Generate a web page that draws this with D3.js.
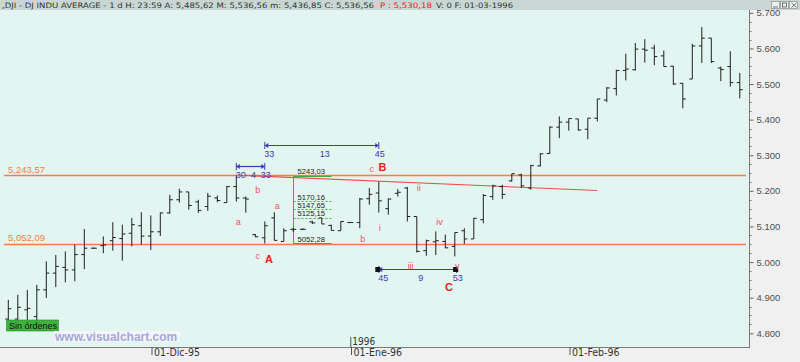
<!DOCTYPE html>
<html><head><meta charset="utf-8">
<script src="https://cdn.jsdelivr.net/npm/d3@7"></script>
<style>html,body{margin:0;padding:0;background:#f0f0f0;}svg{display:block;}</style>
</head><body>
<svg id="chart" width="800" height="362"></svg>
<script>
// ---- DATA (DJ Indu Average, daily bars) ----
const opens  = [4840,4840,4866,4847,4922,4969,4985,4978,5021,5039,5046,5060,5066,5081,5102,5073,5085,5138,5175,5197,
                5169,5156,5180,5167,5212,5180,5077,5068,5124,5058,5092,5092,5113,5124,5103,5088,5111,5111,5178,5194,
                5150,5193,5208,5128,5032,5057,5058,5044,5088,5065,5119,5184,5212,5228,5245,5208,5270,5305,5379,5393,
                5402,5373,5404,5455,5487,5538,5540,5598,5601,5579,5550,5502,5514,5607,5629,5545,5549,5504];
const highs  = [4894,4908,4922,4936,5002,5020,5030,5049,5093,5041,5072,5112,5105,5124,5140,5131,5139,5189,5206,5197,
                5175,5194,5187,5214,5243.57,5184,5079,5114,5140,5095,5096,5095,5116,5124,5105,5114,5113,5180,5208,5226,
                5179,5205,5211,5128,5063,5086,5077,5083,5095,5124,5191,5217,5217,5248,5248,5273,5306,5381,5409,5403,
                5402,5404,5458,5491,5540,5585,5615,5626,5610,5594,5551,5503,5613,5660,5629,5549,5592,5531];
const lows   = [4830,4832,4834,4836,4899,4930,4943,4946,4980,5037,5025,5032,5004,5044,5049,5034,5073,5136,5167,5147,
                5138,5144,5168,5167,5170,5139,5070,5052,5061,5058,5084,5090,5107,5107,5089,5088,5110,5095,5161,5139,
                5133,5184,5114,5027,5018,5020,5039,5016,5051,5065,5109,5175,5177,5226,5208,5203,5269,5304,5348,5369,
                5369,5345,5395,5449,5468,5510,5538,5560,5553,5549,5498,5432,5514,5559,5559,5508,5493,5460];
const closes = [4869,4873,4870,4922,4969,4988,4978,5021,5039,5039,5048,5069,5079,5105,5073,5085,5138,5175,5197,5159,
                5145,5185,5173,5212,5180,5177,5071,5102,5061,5088,5092,5092,5110,5107,5089,5114,5111,5177,5190,5172,
                5177,5196,5128,5030,5060,5060,5040,5083,5065,5123,5187,5214,5190,5248,5214,5271,5304,5379,5393,5403,
                5371,5404,5458,5489,5538,5542,5598,5595,5577,5549,5500,5458,5607,5629,5563,5541,5504,5484];

const dateTickBars   = [15, 36, 59];
const dateTickLabels = ["01-Dic-95", "01-Ene-96", "01-Feb-96"];
const yearTickBar = 36, yearLabel = "1996";
const yMajorTicks = [4800,4900,5000,5100,5200,5300,5400,5500,5600,5700];
const yMinorTicks = d3.range(4800, 5701, 25).filter(v => v % 100 !== 0);

const supportLevels = [5243.57, 5052.09];
const supportLabels = ["5,243,57", "5,052,09"];

const fibHigh = 5243.03, fibLow = 5052.28;
const fibLevels = [5170.16, 5147.65, 5125.15];
const fibLabels = ["5243,03", "5052,28", "5170,16", "5147,65", "5125,15"];
const fibBars = [30, 34];

const trendStart = {i: 25, v: 5243};
const trendEnd   = {i: 62, v: 5201};

const waveSmall = [
  {i:24.2, v:5112, t:"a"}, {i:26.25, v:5201, t:"b"}, {i:28.3, v:5158, t:"a"},
  {i:26.25, v:5018, t:"c"}, {i:37.3, v:5066, t:"b"}, {i:38.25, v:5261, t:"c"},
  {i:39.1, v:5095, t:"i"}, {i:43.2, v:5207, t:"ii"}, {i:45.4, v:5112, t:"iv"},
  {i:42.35, v:4990, t:"iii"}, {i:47.25, v:4990, t:"v"}
];
const waveBig = [{i:27.45, v:5008, t:"A"}, {i:39.4, v:5266, t:"B"}, {i:46.4, v:4930, t:"C"}];

const brackets = [
  {i1:27, i2:39, v:5328, labels:["33","13","45"], squares:false},
  {i1:24, i2:27, v:5270, labels:["30","4","33"], squares:false},
  {i1:39, i2:47.2, v:4980, labels:["45","9","53"], squares:true}
];

const headerA = ",DJI - DJ INDU AVERAGE -  1 d H: 23:59 A: 5,485,62 M: 5,536,56 m: 5,436,85 C: 5,536,56";
const headerP = "P : 5,530,18";
const headerB = "V: 0 F: 01-03-1996";

// ---- DRAWING ----
const W = 800, H = 362;
const plotRight = 749, plotBottom = 347, plotTop = 10;
const svg = d3.select("#chart");
const x = d3.scaleLinear().domain([0, 77]).range([8.3, 739.8]);
const y = d3.scaleLinear().domain([4800, 5700]).range([333.3, 12.8]);
const crisp = v => Math.round(v) + 0.5;
const FONT = "'Liberation Sans', Arial, sans-serif";

svg.append("rect").attr("width", W).attr("height", H).attr("fill", "#f0f0f0");
svg.append("rect").attr("x", 0).attr("y", plotTop).attr("width", plotRight).attr("height", plotBottom - plotTop).attr("fill", "#e3f5f0");

svg.append("defs").append("clipPath").attr("id", "plotclip")
  .append("rect").attr("x", 0).attr("y", plotTop).attr("width", plotRight).attr("height", plotBottom - plotTop);
const g = svg.append("g").attr("clip-path", "url(#plotclip)");

// support/resistance lines
supportLevels.forEach((lv, k) => {
  g.append("line").attr("x1", 4).attr("x2", 746).attr("y1", crisp(y(lv))).attr("y2", crisp(y(lv)))
    .attr("stroke", "#ff7a48").attr("stroke-width", 1.4);
  g.append("text").attr("x", 8).attr("y", y(lv) - 2.5).text(supportLabels[k])
    .attr("font-family", FONT).attr("font-size", 9.5).attr("fill", "#f87a48");
});

// trend line
g.append("line").attr("x1", x(trendStart.i)).attr("y1", y(trendStart.v))
  .attr("x2", x(trendEnd.i)).attr("y2", y(trendEnd.v))
  .attr("stroke", "#ec4f4f").attr("stroke-width", 1.1);

// fibonacci box
const fx1 = crisp(x(fibBars[0])), fx2 = crisp(x(fibBars[1]));
const green = "#3fae3f";
g.append("line").attr("x1", fx1).attr("x2", fx1).attr("y1", crisp(y(fibHigh))).attr("y2", crisp(y(fibLow))).attr("stroke", green);
[fibHigh, fibLow].forEach(v => g.append("line").attr("x1", fx1).attr("x2", fx2).attr("y1", crisp(y(v))).attr("y2", crisp(y(v))).attr("stroke", green));
fibLevels.forEach(v => g.append("line").attr("x1", fx1).attr("x2", fx2).attr("y1", crisp(y(v))).attr("y2", crisp(y(v)))
  .attr("stroke", green).attr("stroke-dasharray", "2,2"));
[fibHigh, fibLow, ...fibLevels].forEach((v, k) => {
  g.append("text").attr("x", fx1 + 4).attr("y", y(v) - 1.5).text(fibLabels[k])
    .attr("font-family", FONT).attr("font-size", 7.6).attr("fill", "#222");
});

// OHLC bars
const idx = d3.range(opens.length);
const bars = g.append("g").attr("stroke", "#1e1e1e").attr("stroke-width", 1);
bars.selectAll(".hl").data(idx).join("line")
  .attr("x1", i => x(i)).attr("x2", i => x(i)).attr("y1", i => y(highs[i])).attr("y2", i => y(lows[i]));
bars.selectAll(".o").data(idx).join("line").attr("class", "o")
  .attr("x1", i => x(i) - 3).attr("x2", i => x(i)).attr("y1", i => y(opens[i])).attr("y2", i => y(opens[i]));
bars.selectAll(".c").data(idx).join("line").attr("class", "c")
  .attr("x1", i => x(i)).attr("x2", i => x(i) + 3).attr("y1", i => y(closes[i])).attr("y2", i => y(closes[i]));

// brackets
const blue = "#3b3bb3";
brackets.forEach(b => {
  const x1 = x(b.i1), x2 = x(b.i2), yy = crisp(y(b.v));
  const bg = g.append("g");
  bg.append("line").attr("x1", x1).attr("x2", x2).attr("y1", yy).attr("y2", yy).attr("stroke", blue).attr("stroke-width", 1.2);
  [x1, x2].forEach(xx => bg.append("line").attr("x1", xx).attr("x2", xx).attr("y1", yy - 3.5).attr("y2", yy + 3.5).attr("stroke", blue));
  bg.append("path").attr("d", `M${x1},${yy}l3.5,-2.5v5z M${x2},${yy}l-3.5,-2.5v5z`).attr("fill", blue);
  if (b.squares) {
    [x1, x2].forEach(xx => bg.append("rect").attr("x", xx - 3.5).attr("y", yy - 2.5).attr("width", 5).attr("height", 5).attr("fill", "#111"));
  }
  const lx = [x1 + 4.5, (x1 + x2) / 2 + 3, x2 + 1];
  b.labels.forEach((t, k) => bg.append("text").attr("x", lx[k]).attr("y", yy + 11).attr("text-anchor", "middle")
    .text(t).attr("font-family", FONT).attr("font-size", 9).attr("fill", blue));
});

// wave labels
waveSmall.forEach(d => g.append("text").attr("x", x(d.i)).attr("y", y(d.v) + 3).attr("text-anchor", "middle")
  .text(d.t).attr("font-family", FONT).attr("font-size", 9).attr("fill", "#f0506a"));
waveBig.forEach(d => g.append("text").attr("x", x(d.i)).attr("y", y(d.v) + 4).attr("text-anchor", "middle")
  .text(d.t).attr("font-family", FONT).attr("font-size", 11).attr("font-weight", "bold").attr("fill", "#e82020"));

// Sin órdenes box
g.append("rect").attr("x", 6.5).attr("y", 320).attr("width", 52).attr("height", 11)
  .attr("fill", "#3db33d").attr("stroke", "#2a8a2a").attr("stroke-width", 0.6);
g.append("text").attr("x", 9).attr("y", 329).text("Sin órdenes").attr("font-family", FONT).attr("font-size", 9).attr("fill", "#111");

// watermark
g.append("rect").attr("x", 54).attr("y", 331).attr("width", 126).attr("height", 11).attr("fill", "#f3f7fb");
g.append("text").attr("x", 55).attr("y", 341).text("www.visualchart.com")
  .attr("font-family", FONT).attr("font-size", 12).attr("font-weight", "bold").attr("fill", "#a6a6dc");

// year label
g.append("text").attr("x", x(yearTickBar) + 2).attr("y", 345).text(yearLabel)
  .attr("font-family", "'Liberation Sans Narrow','DejaVu Sans Condensed',sans-serif").attr("font-size", 10).attr("fill", "#333");
svg.append("line").attr("x1", x(yearTickBar) + 0.5).attr("x2", x(yearTickBar) + 0.5).attr("y1", 337).attr("y2", 347).attr("stroke", "#555");

// axes frame
svg.append("line").attr("x1", 0).attr("x2", plotRight).attr("y1", plotBottom + 0.5).attr("y2", plotBottom + 0.5).attr("stroke", "#7a7a7a");
svg.append("line").attr("x1", plotRight + 0.5).attr("x2", plotRight + 0.5).attr("y1", plotTop).attr("y2", plotBottom + 1).attr("stroke", "#7a7a7a");

// right axis
const yAxis = d3.axisRight(y).tickValues(yMajorTicks).tickSize(4).tickPadding(3)
  .tickFormat(v => d3.format(",")(v).replace(",", "."));
const ya = svg.append("g").attr("transform", `translate(${plotRight + 0.5},0)`).call(yAxis);
ya.select(".domain").remove();
ya.selectAll("line").attr("stroke", "#666");
ya.selectAll("text").attr("font-family", FONT).attr("font-size", 9.5).attr("fill", "#505050");
svg.append("g").selectAll("line").data(yMinorTicks).join("line")
  .attr("x1", plotRight + 0.5).attr("x2", plotRight + 2.5).attr("y1", v => crisp(y(v))).attr("y2", v => crisp(y(v)))
  .attr("stroke", "#777");

// bottom axis
const xAxis = d3.axisBottom(x).tickValues(dateTickBars).tickSize(8).tickFormat((d, k) => dateTickLabels[k]);
const xa = svg.append("g").attr("transform", `translate(0.7,${plotBottom})`).call(xAxis);
xa.select(".domain").remove();
xa.selectAll("line").attr("stroke", "#555");
xa.selectAll("text").attr("text-anchor", "start").attr("x", 2).attr("y", 2).attr("dy", "0.71em")
  .attr("font-family", "'Liberation Sans Narrow','DejaVu Sans Condensed',sans-serif").attr("font-size", 10.5).attr("fill", "#333");

// header bar
svg.append("rect").attr("x", 0).attr("y", 0).attr("width", W).attr("height", plotTop).attr("fill", "#c8d7d3");
const HF = "'DejaVu Sans', sans-serif";
svg.append("text").attr("x", 2).attr("y", 8.3).attr("textLength", 372).attr("lengthAdjust", "spacingAndGlyphs")
  .text(headerA).attr("font-family", HF).attr("font-size", 7.5).attr("fill", "#333");
svg.append("text").attr("x", 380).attr("y", 8.3).attr("textLength", 52).attr("lengthAdjust", "spacingAndGlyphs")
  .text(headerP).attr("font-family", HF).attr("font-size", 7.5).attr("fill", "#ee2020");
svg.append("text").attr("x", 436).attr("y", 8.3).attr("textLength", 77).attr("lengthAdjust", "spacingAndGlyphs")
  .text(headerB).attr("font-family", HF).attr("font-size", 7.5).attr("fill", "#333");

// window buttons
const btn = svg.append("g").attr("stroke", "#555").attr("stroke-width", 0.8);
[771, 780, 789].forEach(bx => {
  btn.append("rect").attr("x", bx + 0.5).attr("y", 1.5).attr("width", 8).attr("height", 7).attr("fill", "#eee").attr("stroke", "#999");
});
btn.append("line").attr("x1", 773).attr("x2", 778).attr("y1", 7).attr("y2", 7);
btn.append("rect").attr("x", 782.5).attr("y", 3).attr("width", 4).attr("height", 4).attr("fill", "none");
btn.append("path").attr("d", "M791.5,3L796.5,7.5M796.5,3L791.5,7.5");
</script>
</body></html>
